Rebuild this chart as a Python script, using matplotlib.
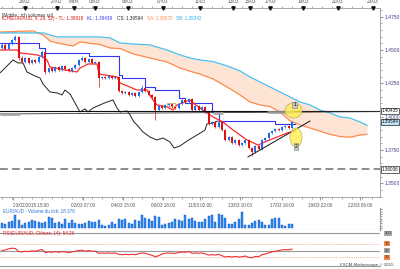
import numpy as np
import matplotlib
matplotlib.use('Agg')
import matplotlib.pyplot as plt
import matplotlib.transforms as mtransforms
from matplotlib.patches import Ellipse, Rectangle
from matplotlib.ticker import MultipleLocator

# ---- price data (4h candles EUR/AUD) ----
first_open = 1.4514
closes = [1.4537, 1.4507, 1.4544, 1.4574, 1.4597, 1.4439, 1.4409, 1.4439, 1.4402, 1.4424,
          1.4409, 1.4447, 1.4484, 1.4334, 1.4364, 1.4342, 1.4372, 1.4349, 1.4379, 1.4357,
          1.4342, 1.4364, 1.4387, 1.4424, 1.4439, 1.4409, 1.4432, 1.4402, 1.4409, 1.4289,
          1.4297, 1.4289, 1.4304, 1.4289, 1.4297, 1.4192, 1.4177, 1.4184, 1.4162, 1.4177,
          1.4154, 1.4184, 1.4214, 1.4192, 1.4162, 1.4147, 1.4049, 1.4079, 1.4064, 1.4087,
          1.4094, 1.4072, 1.4064, 1.4094, 1.4124, 1.4109, 1.4132, 1.4049, 1.4079, 1.4049,
          1.4072, 1.4034, 1.3944, 1.3959, 1.3921, 1.3959, 1.3899, 1.3824, 1.3846, 1.3801,
          1.3824, 1.3786, 1.3801, 1.3824, 1.3764, 1.3734, 1.3779, 1.3756, 1.3824, 1.3839,
          1.3876, 1.3891, 1.3906, 1.3899, 1.3921, 1.3929, 1.3914, 1.3959]
highs = [1.4549, 1.4548, 1.4556, 1.4583, 1.4612, 1.4605, 1.4451, 1.4448, 1.4446, 1.4433,
         1.4431, 1.4455, 1.4499, 1.4489, 1.4372, 1.4371, 1.4381, 1.4378, 1.4387, 1.4385,
         1.4363, 1.4371, 1.4394, 1.4433, 1.4454, 1.4446, 1.4441, 1.4438, 1.4417, 1.4414,
         1.4304, 1.4303, 1.4311, 1.4309, 1.4304, 1.4302, 1.4198, 1.4191, 1.4189, 1.4184,
         1.4182, 1.4192, 1.4236, 1.4221, 1.4198, 1.4168, 1.4153, 1.4087, 1.4086, 1.4094,
         1.4102, 1.4099, 1.4079, 1.4101, 1.4132, 1.4131, 1.4141, 1.4138, 1.4086, 1.4084,
         1.4079, 1.4078, 1.4039, 1.3966, 1.3964, 1.3967, 1.3964, 1.3904, 1.3853, 1.3851,
         1.3831, 1.3829, 1.3808, 1.3832, 1.3829, 1.3769, 1.3786, 1.3784, 1.3831, 1.3846,
         1.3883, 1.3898, 1.3913, 1.3912, 1.3928, 1.3936, 1.3934, 1.3966]
lows = [1.4502, 1.4496, 1.4499, 1.4536, 1.4566, 1.4424, 1.4398, 1.4401, 1.4391, 1.4394,
        1.4399, 1.4403, 1.4441, 1.4319, 1.4326, 1.4333, 1.4336, 1.4341, 1.4343, 1.4349,
        1.4333, 1.4336, 1.4357, 1.4381, 1.4417, 1.4401, 1.4403, 1.4394, 1.4396, 1.4222,
        1.4281, 1.4282, 1.4283, 1.4282, 1.4283, 1.4183, 1.4169, 1.4171, 1.4154, 1.4156,
        1.4146, 1.4148, 1.4179, 1.4186, 1.4154, 1.4139, 1.3974, 1.4041, 1.4057, 1.4058,
        1.4081, 1.4064, 1.4057, 1.4058, 1.4088, 1.4102, 1.4103, 1.4041, 1.4043, 1.4042,
        1.4043, 1.4026, 1.3936, 1.3937, 1.3913, 1.3915, 1.3891, 1.3816, 1.3818, 1.3793,
        1.3796, 1.3779, 1.3781, 1.3796, 1.3757, 1.3704, 1.3729, 1.3749, 1.3751, 1.3817,
        1.3833, 1.3869, 1.3884, 1.3891, 1.3893, 1.3914, 1.3907, 1.3908]

# ---- Ichimoku lines (bar index, price) ----
tenkan_x = [-0.6, 4.5, 5.4, 10.5, 12.3, 13.5, 14.4, 18.9, 22.5, 23.4, 25.8, 28.5, 29.1, 34.5,
            35.4, 40.5, 43.5, 45.3, 46.5, 49.5, 51.3, 52.5, 56.4, 57.3, 59.4, 63.3, 66.3,
            69.3, 73.5, 76.8, 79.5, 82.5, 85.5, 87.9]
tenkan_v = [1.4499, 1.4499, 1.4477, 1.4462, 1.4447, 1.4424, 1.4372, 1.4349, 1.4334, 1.4364,
            1.4394, 1.4394, 1.4319, 1.4297, 1.4252, 1.4199, 1.4199, 1.4124, 1.4087, 1.4072,
            1.4049, 1.4087, 1.4124, 1.4102, 1.4064, 1.3997, 1.3959, 1.3899, 1.3824, 1.3786,
            1.3816, 1.3846, 1.3876, 1.3892]
kijun_x = [-0.6, 11, 13, 26, 35, 36, 43, 46, 53, 55, 63, 65, 82, 87.9]
kijun_v = [1.4552, 1.4514, 1.4477, 1.4454, 1.4312, 1.4289, 1.4222, 1.4199, 1.4139, 1.4102,
           1.4034, 1.3967, 1.3944, 1.3944]
chikou_x = [-0.6, 0.9, 3.3, 4.8, 6.3, 7.5, 9.9, 11.4, 12.3, 14.4, 16.5, 18.0, 18.9, 20.4,
            21.9, 23.4, 24.9, 25.8, 27.3, 29.4, 31.5, 33.3, 34.5, 35.4, 37.5, 38.4, 39.6,
            40.5, 42.3, 44.4, 46.5, 48.3, 50.4, 51.6, 53.4, 55.5, 57.0, 58.5, 60.0, 60.9,
            61.5, 63.3, 64.8]
chikou_v = [1.4327, 1.4364, 1.4424, 1.4402, 1.4402, 1.4334, 1.4304, 1.4289, 1.4244, 1.4184,
            1.4177, 1.4162, 1.4199, 1.4169, 1.4102, 1.4034, 1.4057, 1.4034, 1.4064, 1.4087,
            1.4109, 1.4124, 1.4064, 1.4034, 1.4042, 1.4012, 1.3959, 1.3937, 1.3884, 1.3846,
            1.3824, 1.3839, 1.3809, 1.3764, 1.3779, 1.3816, 1.3839, 1.3861, 1.3884, 1.3899,
            1.3944, 1.3952, 1.3967]
cloud_x = [-0.6, 9.3, 12.3, 14.4, 16.5, 21.3, 23.4, 29.4, 32.4, 35.4, 39.3, 44.4, 49.5, 53.4,
           56.4, 59.4, 63.3, 67.5, 71.4, 74.4, 77.4, 80.4, 83.4, 86.4, 89.4, 92.4, 95.4, 98.4,
           101.4, 104.4, 107.4, 109.5]
span_a = [1.4634, 1.4642, 1.4612, 1.4567, 1.4552, 1.4529, 1.4559, 1.4540, 1.4514, 1.4510,
          1.4470, 1.4439, 1.4409, 1.4364, 1.4340, 1.4318, 1.4282, 1.4222, 1.4162, 1.4109,
          1.4087, 1.4075, 1.4035, 1.3967, 1.3937, 1.3914, 1.3890, 1.3866, 1.3850, 1.3845,
          1.3861, 1.3867]
span_b = [1.4627, 1.4627, 1.4627, 1.4612, 1.4597, 1.4597, 1.4597, 1.4597, 1.4589, 1.4552,
          1.4544, 1.4537, 1.4499, 1.4462, 1.4439, 1.4424, 1.4412, 1.4380, 1.4342, 1.4297,
          1.4259, 1.4222, 1.4184, 1.4147, 1.4109, 1.4087, 1.4049, 1.4027, 1.3997, 1.3989,
          1.3959, 1.3934]

# ---- volume (thousands of ticks) and RSI ----
volume = [21, 17, 26, 30, 56, 34, 13, 21, 26, 34, 30, 26, 21, 26, 47, 43, 21, 26, 17, 39,
          21, 34, 21, 17, 17, 21, 30, 26, 26, 34, 13, 9, 13, 26, 17, 39, 34, 39, 21, 17,
          34, 30, 56, 43, 39, 30, 52, 47, 13, 17, 21, 26, 39, 34, 30, 56, 39, 43, 30, 26,
          26, 39, 52, 56, 26, 60, 56, 43, 17, 17, 26, 39, 69, 13, 13, 21, 30, 34, 26, 13,
          13, 39, 43, 43, 13, 9, 17, 18.4]
rsi = [50, 52, 55, 57, 56, 47, 46, 48, 47, 49, 48, 51, 53, 44, 46, 45, 47, 45, 47, 46,
       44, 46, 48, 50, 51, 48, 50, 48, 48, 42, 43, 42, 43, 42, 43, 39, 38, 39, 38, 39,
       38, 41, 43, 42, 39, 36, 32, 35, 40, 42, 43, 42, 42, 44, 46, 45, 47, 42, 43, 42,
       43, 40, 37, 38, 37, 39, 35, 31, 33, 31, 33, 31, 32, 34, 30, 29, 33, 32, 38, 40,
       43, 46, 48, 50, 52, 53, 52, 54.26]

# ---- axis labels ----
top_pos = [6.9, 16.5, 21.6, 27.9, 37.8, 48.3, 59.4, 69.3, 74.4, 80.4, 90.3, 100.8, 111.3]
top_lbl = ['25/02', '27/02', 'Mars', '03/03', '05/03', '07/03', '11/03', '13/03', '15/03',
           '17/03', '19/03', '21/03', '23/03']
bot_pos = [3.3, 24.3, 36.3, 48.3, 59.4, 71.4, 84.0, 95.4, 107.4]
bot_lbl = ['23/02/2015 15:00', '02/03 07:00', '04/03 15:00', '06/03 18:00', '11/03 02:00',
           '13/03 10:00', '17/03 16:00', '19/03 22:00', '22/03 06:00']
price_ticks = [1.3500, 1.3750, 1.4000, 1.4250, 1.4500, 1.4750]

UP, DOWN = '#1f6ef0', '#e01010'
AXC = '#9a9a9a'
TXT = '#44448a'
XL = (-0.6, 113.4)
FS = 3.3

plt.rcParams['font.family'] = ['Liberation Sans', 'DejaVu Sans']
fig = plt.figure(figsize=(4, 2.69), dpi=100)
ax = fig.add_axes([0, 0.2677, 0.95, 0.7026])
axv = fig.add_axes([0, 0.1468, 0.95, 0.0799])
axr = fig.add_axes([0, 0.0112, 0.95, 0.1338])

# ---- main price panel ----
c = np.array(closes)
o = np.array([first_open] + closes[:-1])
idx = np.arange(len(c))
cols = np.where(c >= o, UP, DOWN)

ax.fill_between(cloud_x, span_a, span_b, color='#fde4d4', lw=0, zorder=1)
ax.plot(cloud_x, span_a, color='#ff8a4c', lw=0.9, zorder=2)
ax.plot(cloud_x, span_b, color='#48c0f0', lw=0.9, zorder=2)
ax.plot(chikou_x, chikou_v, color='#222222', lw=0.7, zorder=3)
ax.step(kijun_x, kijun_v, where='post', color='#3535f0', lw=0.8, zorder=3)
ax.plot(tenkan_x, tenkan_v, color='#ff2a2a', lw=0.9, zorder=3)

ax.vlines(idx, lows, highs, colors=cols, lw=0.5, zorder=4)
body = np.maximum(np.abs(c - o), 0.0004)
ax.bar(idx, body, bottom=np.minimum(o, c), width=0.62, color=cols, lw=0, zorder=5)

tr = mtransforms.blended_transform_factory(ax.transAxes, ax.transData)
ax.axhline(1.40435, color='#111111', lw=0.8, zorder=6)
ax.plot([XL[0], XL[1]], [1.4019, 1.4037], color='#333333', lw=0.6, zorder=6)
for x0, x1, y0 in [(-0.6, 5.4, 1.4019), (63.3, 66.3, 1.4030), (79.5, 87.3, 1.4032)]:
    ax.plot([x0, x1], [y0, y0], color='#a0a0a0', lw=2.2, alpha=0.8, zorder=6,
            solid_capstyle='butt')
ax.axhline(1.36036, color='#8c8c8c', lw=1.4, dashes=(4, 2.2), zorder=6)
ax.plot([73.8, 92.4], [1.3697, 1.3966], color='#111111', lw=0.7, zorder=7)
ax.add_patch(Rectangle((49.5, 1.4079), 2.4, 0.0023, fill=False, ec='#c8a860', lw=0.6, zorder=7))

ax.add_patch(Ellipse((87.45, 1.4045), 5.1, 0.0113, fc='#ffec50', ec='#b0a050', lw=0.5,
                     alpha=0.8, zorder=8))
ax.add_patch(Ellipse((88.2, 1.3843), 3.6, 0.0143, fc='#ffec50', ec='#b0a050', lw=0.5,
                     alpha=0.8, zorder=8))
box = dict(boxstyle='square,pad=0.15', fc='#c8c8c8', ec='#808080', lw=0.4)
ax.text(87.75, 1.4087, '1', fontsize=3.6, ha='center', va='center', bbox=box, zorder=9)
ax.text(88.3, 1.3777, '2', fontsize=3.6, ha='center', va='center', bbox=box, zorder=9)

ax.set_xlim(*XL)
ax.set_ylim(1.33965, 1.4814)
ax.yaxis.tick_right()
ax.set_yticks(price_ticks, labels=['%.4f' % v for v in price_ticks])
ax.yaxis.set_minor_locator(MultipleLocator(0.005))
ax.tick_params(axis='y', which='both', labelsize=3.6, labelcolor=TXT, color=AXC, pad=1,
               length=2)
ax.tick_params(axis='y', which='minor', length=1.2)
ax.set_xticks(bot_pos, labels=bot_lbl)
ax.xaxis.set_minor_locator(MultipleLocator(3))
ax.tick_params(axis='x', which='both', labelsize=FS, labelcolor='#555555', color=AXC,
               length=2, pad=2.5)
ax.tick_params(axis='x', which='minor', length=1.2)
ax.get_xticklabels()[0].set_horizontalalignment('left')
ax.get_xticklabels()[0].set_x(-0.4)
sec = ax.secondary_xaxis('top')
sec.set_xticks(top_pos, labels=top_lbl)
sec.xaxis.set_minor_locator(MultipleLocator(3))
sec.tick_params(which='both', labelsize=FS, labelcolor='#555555', color=AXC, length=1.2,
                pad=1.5)
sec.spines['top'].set_color(AXC)
sec.spines['top'].set_linewidth(0.6)
ax.plot(top_pos, [1.0] * len(top_pos), ls='none', marker='v', ms=2.4, color='#111111',
        transform=mtransforms.blended_transform_factory(ax.transData, ax.transAxes),
        clip_on=False, zorder=10)
for s in ['left', 'top']:
    ax.spines[s].set_visible(False)
for s in ['right', 'bottom']:
    ax.spines[s].set_color(AXC)
    ax.spines[s].set_linewidth(0.6)

for val, lbl, fc in [(1.40435, '1.40435', 'white'), (1.39594, '1.39594', '#bfe4f6'),
                     (1.36036, '1.36036', 'white')]:
    ax.text(1.005, val, lbl, transform=tr, fontsize=3.3, ha='left', va='center',
            color='#111111', clip_on=False,
            bbox=dict(boxstyle='square,pad=0.15', fc=fc, ec='#222222', lw=0.5))

ax.text(0.005, 0.975, '[Mobile : ich volumes rsi]', transform=ax.transAxes, fontsize=FS,
        color='#333333', va='top', ha='left')
leg = [('ICH(EUR/AUD, 9, 26, 52) - TL: 1.38918', '#e01010'), ('KL: 1.39439', '#3535f0'),
       ('CS: 1.39594', '#222222'), ('SA: 1.38670', '#ff8a4c'), ('SB: 1.39342', '#30b0e8')]
t = ax.text(0.005, 0.955, leg[0][0], transform=ax.transAxes, fontsize=FS, color=leg[0][1],
            va='top', ha='left')
for txt, col in leg[1:]:
    t = ax.annotate(txt, xy=(1, 0), xycoords=t, xytext=(3, 0), textcoords='offset points',
                    fontsize=FS, color=col, va='bottom', ha='left')

# ---- volume panel ----
axv.bar(idx, volume, width=0.62, color='#2a8cf0', ec='#1050c0', lw=0.3)
axv.set_xlim(*XL)
axv.set_ylim(-6.5, 86)
axv.set_xticks([])
axv.yaxis.tick_right()
axv.set_yticks([0, 20, 40, 60, 80], labels=[])
axv.yaxis.set_minor_locator(MultipleLocator(10))
axv.tick_params(axis='y', which='both', color=AXC, length=1.2)
for s in ['left', 'top']:
    axv.spines[s].set_visible(False)
axv.spines['right'].set_color(AXC)
axv.spines['bottom'].set_color('#808080')
axv.spines['bottom'].set_linewidth(0.8)
axv.text(0.008, 0.97, 'EUR/AUD - Volume du tick: 18 376', transform=axv.transAxes,
         fontsize=FS, color='#2a70d8', va='top')

# ---- RSI panel ----
axr.axhline(100, color='#9a9a9a', lw=0.8)
axr.axhline(50, color='#9a9a9a', lw=0.8)
axr.axhline(70, color='#f4a080', lw=0.6, ls=(0, (1, 1.2)))
axr.axhline(30, color='#f4a080', lw=0.6, ls=(0, (1, 1.2)))
axr.plot(idx, rsi, color='#f03030', lw=0.8)
axr.set_xlim(*XL)
axr.set_ylim(5, 110)
axr.set_xticks([])
axr.set_yticks([])
for s in ['left', 'top', 'right']:
    axr.spines[s].set_visible(False)
axr.spines['bottom'].set_color('#9a9a9a')
axr.spines['bottom'].set_linewidth(0.8)
trr = mtransforms.blended_transform_factory(axr.transAxes, axr.transData)
for val, fc in [(100, '#a8a8a8'), (70, '#f08848'), (50, '#a8a8a8'), (30, '#f08848')]:
    axr.text(1.012, val, str(val), transform=trr, fontsize=3.0, ha='left', va='center',
             color='#222222', clip_on=False,
             bbox=dict(boxstyle='square,pad=0.12', fc=fc, ec='none'))
axr.text(0.008, 0.98, 'RSI(EUR/AUD, Clôture, 14): 54.26', transform=axr.transAxes,
         fontsize=FS, color='#e02020', va='top')
fig.text(0.985, 0.006, 'FXCM Marketscope © 2015', ha='right', va='bottom', fontsize=3.2,
         color='#444444')

fig.savefig('out.png', dpi=100)
